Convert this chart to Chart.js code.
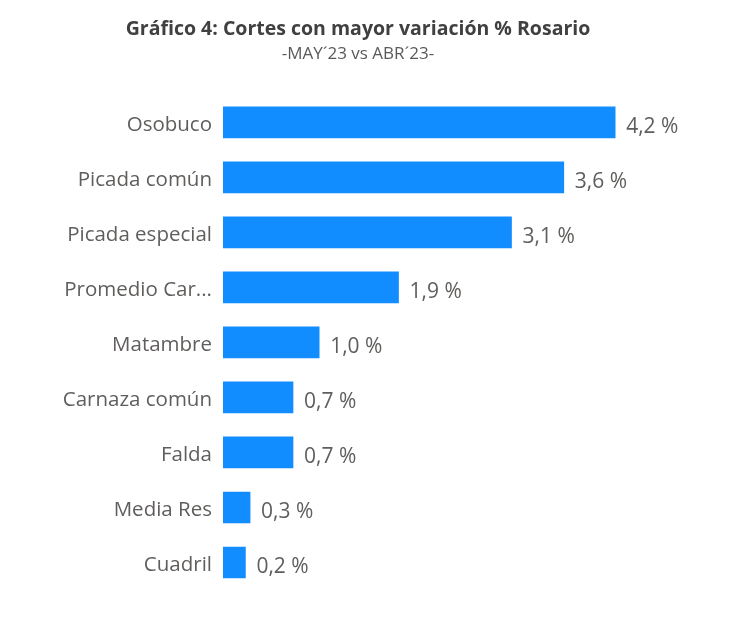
<!DOCTYPE html>
<html>
<head>
<meta charset="utf-8">
<script src="https://cdn.jsdelivr.net/npm/chart.js@4"></script>
<style>
  html, body { margin: 0; padding: 0; background: #fff; }
  #wrap { width: 754px; height: 620px; position: relative; }
</style>
</head>
<body>
<div id="wrap"><canvas id="chart"></canvas></div>
<script>
const cortes = ['Osobuco', 'Picada común', 'Picada especial', 'Promedio Car...', 'Matambre', 'Carnaza común', 'Falda', 'Media Res', 'Cuadril'];
const variacion = [4.2, 3.65, 3.09, 1.88, 1.03, 0.75, 0.75, 0.29, 0.24];
const etiquetas = ['4,2 %', '3,6 %', '3,1 %', '1,9 %', '1,0 %', '0,7 %', '0,7 %', '0,3 %', '0,2 %'];

const FONT = "'Open Sans', 'Noto Sans', sans-serif";

// draws the value text just past the end of each bar
const valueLabels = {
  id: 'valueLabels',
  afterDatasetsDraw(chart) {
    const ctx = chart.ctx;
    const meta = chart.getDatasetMeta(0);
    ctx.save();
    ctx.font = '21px ' + FONT;
    ctx.fillStyle = '#605E5C';
    ctx.textAlign = 'left';
    ctx.textBaseline = 'middle';
    meta.data.forEach((bar, i) => {
      ctx.fillText(etiquetas[i], bar.x + 11, bar.y + 5);
    });
    ctx.restore();
  }
};

new Chart(document.getElementById('chart'), {
  type: 'bar',
  data: {
    labels: cortes,
    datasets: [{
      data: variacion,
      backgroundColor: '#118DFF',
      borderWidth: 0,
      barThickness: 31
    }]
  },
  options: {
    indexAxis: 'y',
    responsive: true,
    maintainAspectRatio: false,
    animation: false,
    layout: { padding: { left: 0, right: 38, top: 0, bottom: 30 } },
    plugins: {
      legend: { display: false },
      tooltip: { enabled: false },
      title: {
        display: true,
        text: 'Gráfico 4: Cortes con mayor variación % Rosario',
        color: '#404040',
        font: { family: FONT, size: 19.5, weight: 'bold' },
        padding: { top: 18, bottom: 3 }
      },
      subtitle: {
        display: true,
        text: '-MAY´23 vs ABR´23-',
        color: '#595959',
        font: { family: FONT, size: 17 },
        padding: { top: 0, bottom: 30 }
      }
    },
    scales: {
      x: {
        display: false,
        min: 0,
        max: 5.28,
        grid: { display: false }
      },
      y: {
        grid: { display: false, drawTicks: false },
        border: { display: false },
        ticks: {
          color: '#605E5C',
          padding: 11,
          labelOffset: 3,
          font: { family: FONT, size: 20.5 }
        },
        afterFit(scale) { scale.width = 223; }
      }
    }
  },
  plugins: [valueLabels]
});
</script>
</body>
</html>
